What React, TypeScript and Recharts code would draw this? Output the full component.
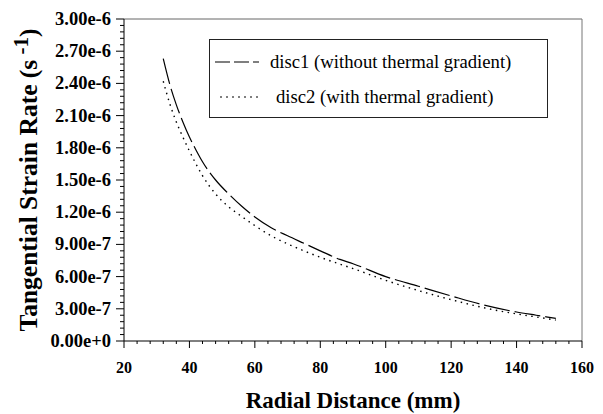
import React from 'react';
import { LineChart, Line, XAxis, YAxis, ReferenceLine, Legend } from 'recharts';

// Radial distance (mm)
const radialDistance = [32, 34, 36, 38, 40, 42, 44, 48, 52, 56, 60, 65, 70, 75, 80, 86, 90, 100, 110, 120, 130, 140, 146, 152];
// Tangential strain rate, in units of 1e-6 s^-1
const disc1Rate = [2.63, 2.39, 2.2, 2.04, 1.9, 1.78, 1.67, 1.5, 1.37, 1.255, 1.155, 1.055, 0.98, 0.91, 0.84, 0.76, 0.72, 0.6, 0.51, 0.42, 0.335, 0.27, 0.24, 0.21];
const disc2Rate = [2.42, 2.21, 2.04, 1.9, 1.77, 1.65, 1.54, 1.37, 1.25, 1.16, 1.075, 0.98, 0.905, 0.84, 0.78, 0.716, 0.675, 0.565, 0.47, 0.385, 0.31, 0.252, 0.224, 0.195];

const xMajorTicks = [20, 40, 60, 80, 100, 120, 140, 160];
const xTickLabels = ['20', '40', '60', '80', '100', '120', '140', '160'];
const yMajorTicks = [0, 0.3, 0.6, 0.9, 1.2, 1.5, 1.8, 2.1, 2.4, 2.7, 3.0];
const yTickLabels = ['0.00e+0', '3.00e-7', '6.00e-7', '9.00e-7', '1.20e-6', '1.50e-6', '1.80e-6', '2.10e-6', '2.40e-6', '2.70e-6', '3.00e-6'];

const seriesNames = ['disc1 (without thermal gradient)', 'disc2 (with thermal gradient)'];

const subdivide = (major: number[], parts: number) => {
  const out: number[] = [];
  for (let i = 0; i < major.length - 1; i++) {
    for (let j = 0; j < parts; j++) out.push(major[i] + ((major[i + 1] - major[i]) * j) / parts);
  }
  out.push(major[major.length - 1]);
  return out;
};
const xAllTicks = subdivide(xMajorTicks, 5);
const yAllTicks = subdivide(yMajorTicks, 5);

const data = radialDistance.map((r, i) => ({ r, disc1: disc1Rate[i], disc2: disc2Rate[i] }));

const SERIF = '"Liberation Serif", "Times New Roman", serif';

const majorIndex = (arr: number[], v: number) => arr.findIndex((m) => Math.abs(m - v) < 1e-6);

const XTick = (props: any) => {
  const { x, y, payload } = props;
  const idx = majorIndex(xMajorTicks, payload.value);
  const major = idx >= 0;
  return (
    <g>
      <line x1={x} x2={x} y1={y} y2={y + (major ? 7 : 3)} stroke="#000" strokeWidth={1} />
      {major && (
        <text x={x} y={y + 32} textAnchor="middle" fontFamily={SERIF} fontWeight="bold" fontSize={16} fill="#000">
          {xTickLabels[idx]}
        </text>
      )}
    </g>
  );
};

const YTick = (props: any) => {
  const { x, y, payload } = props;
  const idx = majorIndex(yMajorTicks, payload.value);
  const major = idx >= 0;
  return (
    <g>
      <line x1={x - (major ? 8 : 4)} x2={x} y1={y} y2={y} stroke="#000" strokeWidth={1} />
      {major && (
        <text x={x - 13} y={y + 6} textAnchor="end" fontFamily={SERIF} fontWeight="bold" fontSize={18.5} fill="#000">
          {yTickLabels[idx]}
        </text>
      )}
    </g>
  );
};

const LegendBox = () => (
  <div
    style={{
      width: 339,
      height: 79,
      boxSizing: 'border-box',
      border: '1px solid #222',
      background: '#fff',
      position: 'relative',
      fontFamily: SERIF,
      color: '#000',
    }}
  >
    <svg width={339} height={79} style={{ position: 'absolute', left: -1, top: -1 }}>
      <line x1={6} x2={50} y1={23} y2={23} stroke="#555" strokeWidth={1.3} strokeDasharray="15 4" />
      <line x1={11} x2={50} y1={58} y2={58} stroke="#000" strokeWidth={1.2} strokeDasharray="2 4" />
      <text x={61} y={29} fontFamily={SERIF} fontSize={18.7} fill="#000">{seriesNames[0]}</text>
      <text x={67} y={64} fontFamily={SERIF} fontSize={18.7} fill="#000">{seriesNames[1]}</text>
    </svg>
  </div>
);

const YTitle = () => (
  <text
    x={37}
    y={180}
    transform="rotate(-90, 37, 180)"
    textAnchor="middle"
    fontFamily={SERIF}
    fontWeight="bold"
    fontSize={25.5}
    fill="#000"
  >
    Tangential Strain Rate (s
    <tspan dy={-9} fontSize={21}> -1</tspan>
    <tspan dy={9}>)</tspan>
  </text>
);

const XTitle = () => (
  <text x={353} y={408} textAnchor="middle" fontFamily={SERIF} fontWeight="bold" fontSize={23} fill="#000">
    Radial Distance (mm)
  </text>
);

export default function App() {
  return (
    <div style={{ width: 603, height: 414, background: '#fff' }}>
      <style>{`body{margin:0;background:#fff}`}</style>
      <LineChart width={603} height={414} data={data} margin={{ top: 19, right: 21, bottom: 0, left: 0 }}>
        <XAxis
          dataKey="r"
          type="number"
          domain={[20, 160]}
          ticks={xAllTicks}
          interval={0}
          height={73}
          tickSize={0}
          tickMargin={0}
          tickLine={false}
          axisLine={{ stroke: '#000', strokeWidth: 1 }}
          tick={<XTick />}
          label={{ content: () => <XTitle /> }}
        />
        <YAxis
          type="number"
          domain={[0, 3]}
          ticks={yAllTicks}
          interval={0}
          width={124}
          tickSize={0}
          tickMargin={0}
          tickLine={false}
          axisLine={{ stroke: '#000', strokeWidth: 1 }}
          tick={<YTick />}
          label={{ content: () => <YTitle /> }}
        />
        <ReferenceLine y={3} stroke="#666" strokeWidth={1} />
        <ReferenceLine x={160} stroke="#777" strokeWidth={1} />
        <Line
          type="monotone"
          dataKey="disc1"
          name={seriesNames[0]}
          stroke="#000"
          strokeWidth={1.2}
          strokeDasharray="26 5"
          dot={false}
          isAnimationActive={false}
        />
        <Line
          type="monotone"
          dataKey="disc2"
          name={seriesNames[1]}
          stroke="#000"
          strokeWidth={1.4}
          strokeDasharray="1.5 4.5"
          dot={false}
          isAnimationActive={false}
        />
        <Legend
          layout="horizontal"
          verticalAlign="middle"
          align="center"
          content={() => <LegendBox />}
          wrapperStyle={{ left: 209, top: 39, width: 339, height: 79, right: 'auto', bottom: 'auto' }}
        />
      </LineChart>
    </div>
  );
}
